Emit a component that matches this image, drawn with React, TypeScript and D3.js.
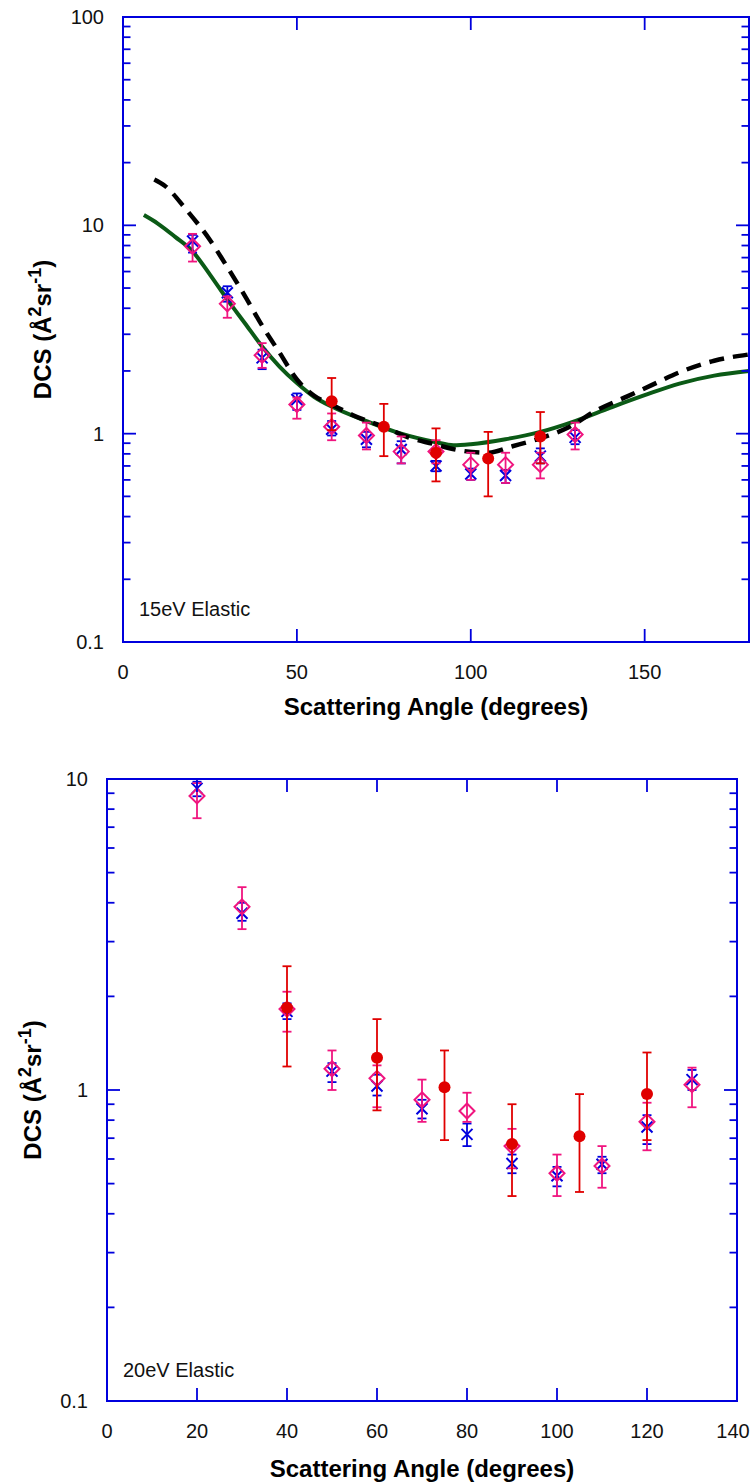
import React from 'react';
import * as d3 from 'd3';

// ---- 15 eV elastic ----
const angles15 = [20, 30, 40, 50, 60, 70, 80, 90, 100, 110, 120, 130];
const blue15 = [8.4, 4.75, 2.31, 1.46, 1.05, 0.94, 0.84, 0.7, 0.64, 0.63, 0.78, 0.96];
const blue15Lo = [7.4, 4.3, 2.04, 1.3, 0.98, 0.86, 0.72, 0.66, 0.6, 0.58, 0.72, 0.89];
const blue15Hi = [9.0, 5.1, 2.53, 1.56, 1.15, 1.02, 0.92, 0.74, 0.68, 0.67, 0.85, 1.04];
const mag15 = [7.93, 4.2, 2.38, 1.38, 1.08, 0.98, 0.82, 0.82, 0.71, 0.71, 0.71, 0.99];
const mag15Lo = [6.7, 3.6, 2.07, 1.18, 0.93, 0.84, 0.72, 0.72, 0.6, 0.58, 0.61, 0.84];
const mag15Hi = [9.1, 4.56, 2.72, 1.49, 1.25, 1.13, 0.97, 0.93, 0.81, 0.81, 0.81, 1.13];
const redAngles15 = [60, 75, 90, 105, 120];
const red15 = [1.43, 1.08, 0.81, 0.76, 0.97];
const red15Lo = [1.04, 0.78, 0.59, 0.5, 0.72];
const red15Hi = [1.85, 1.39, 1.06, 1.02, 1.27];

const greenAngles = [6, 10, 15, 20, 25, 30, 35, 40, 45, 50, 55, 60, 70, 80, 90, 95, 100, 110, 120, 130, 140, 150, 160, 170, 180];
const greenDcs = [11.2, 10.2, 8.8, 7.5, 5.8, 4.4, 3.4, 2.62, 2.1, 1.75, 1.5, 1.35, 1.15, 1.0, 0.91, 0.88, 0.89, 0.94, 1.02, 1.15, 1.33, 1.53, 1.74, 1.9, 2.0];
const dashAngles = [9, 12, 18, 25, 30, 35, 40, 45, 50, 55, 60, 66, 76, 82, 89, 97, 105, 112, 120, 128, 136, 145, 152, 160, 170, 180];
const dashDcs = [16.6, 15.5, 12.0, 8.5, 6.3, 4.6, 3.3, 2.45, 1.82, 1.52, 1.38, 1.23, 1.06, 0.96, 0.895, 0.83, 0.81, 0.87, 0.95, 1.07, 1.29, 1.51, 1.71, 1.97, 2.24, 2.4];

// ---- 20 eV elastic ----
const angles20 = [20, 30, 40, 50, 60, 70, 80, 90, 100, 110, 120, 130];
const blue20 = [9.33, 3.7, 1.79, 1.15, 1.03, 0.87, 0.72, 0.58, 0.53, 0.577, 0.76, 1.08];
const blue20Lo = [8.8, 3.5, 1.69, 1.06, 0.96, 0.81, 0.66, 0.54, 0.49, 0.54, 0.67, 1.0];
const blue20Hi = [9.8, 4.0, 1.9, 1.22, 1.12, 0.93, 0.78, 0.62, 0.566, 0.61, 0.83, 1.16];
const mag20 = [8.82, 3.88, 1.82, 1.17, 1.09, 0.93, 0.856, 0.66, 0.54, 0.57, 0.79, 1.04];
const mag20Lo = [7.48, 3.29, 1.54, 1.0, 0.88, 0.79, 0.79, 0.56, 0.456, 0.485, 0.64, 0.88];
const mag20Hi = [9.7, 4.49, 2.07, 1.34, 1.2, 1.08, 0.98, 0.75, 0.62, 0.66, 0.91, 1.18];
const redAngles20 = [40, 60, 75, 90, 105, 120];
const red20 = [1.84, 1.27, 1.02, 0.67, 0.71, 0.97];
const red20Lo = [1.19, 0.86, 0.69, 0.456, 0.47, 0.69];
const red20Hi = [2.5, 1.69, 1.34, 0.9, 0.97, 1.32];

const xTicks15 = [0, 50, 100, 150];
const xTicks20 = [0, 20, 40, 60, 80, 100, 120, 140];

const FONT = '"Liberation Sans", Arial, sans-serif';
const AXIS = '#0000dd';
const BLUE = '#0000dd';
const MAGENTA = '#f0157f';
const RED = '#e00000';
const GREEN = '#0b5a16';

const zip = (a, v, lo, hi) => a.map((x, i) => ({ a: x, v: v[i], lo: lo[i], hi: hi[i] }));

function ErrBar({ x, y, d, color }) {
  const y0 = y(d.lo), y1 = y(d.hi), cx = x(d.a);
  return (
    <g stroke={color} strokeWidth={1.8}>
      <line x1={cx} x2={cx} y1={y0} y2={y1} />
      <line x1={cx - 4.5} x2={cx + 4.5} y1={y0} y2={y0} />
      <line x1={cx - 4.5} x2={cx + 4.5} y1={y1} y2={y1} />
    </g>
  );
}

function Panel({ box, xMax, xTicks, yMin, yMax, blue, mag, red, lines, label, labelPos, yTitleX, xTitleY }) {
  const x = d3.scaleLinear().domain([0, xMax]).range([box.left, box.right]);
  const y = d3.scaleLog().domain([yMin, yMax]).range([box.bottom, box.top]);
  const line = d3.line().x(d => x(d[0])).y(d => y(d[1])).curve(d3.curveMonotoneX);

  const minor = [];
  const major = [];
  for (let dec = yMin; dec < yMax * 0.999; dec *= 10) {
    major.push(dec);
    for (let k = 2; k <= 9; k++) minor.push(dec * k);
  }
  major.push(yMax);
  const fmt = v => (v < 1 ? v.toFixed(1) : String(Math.round(v)));
  const cy = (box.top + box.bottom) / 2;

  return (
    <g fontFamily={FONT}>
      {lines.map((l, i) => (
        <path key={i} d={line(l.pts)} fill="none" stroke={l.color} strokeWidth={l.width}
          strokeDasharray={l.dash || null} />
      ))}
      {blue.map((d, i) => (
        <g key={'b' + i}>
          <ErrBar x={x} y={y} d={d} color={BLUE} />
          <path d={`M${x(d.a) - 5.5},${y(d.v) - 5.5}L${x(d.a) + 5.5},${y(d.v) + 5.5}M${x(d.a) - 5.5},${y(d.v) + 5.5}L${x(d.a) + 5.5},${y(d.v) - 5.5}`}
            stroke={BLUE} strokeWidth={2} />
        </g>
      ))}
      {mag.map((d, i) => (
        <g key={'m' + i}>
          <ErrBar x={x} y={y} d={d} color={MAGENTA} />
          <path d={`M${x(d.a)},${y(d.v) - 7.5}L${x(d.a) + 7.5},${y(d.v)}L${x(d.a)},${y(d.v) + 7.5}L${x(d.a) - 7.5},${y(d.v)}Z`}
            fill="none" stroke={MAGENTA} strokeWidth={2} />
        </g>
      ))}
      {red.map((d, i) => (
        <g key={'r' + i}>
          <ErrBar x={x} y={y} d={d} color={RED} />
          <circle cx={x(d.a)} cy={y(d.v)} r={6} fill={RED} />
        </g>
      ))}

      {/* frame */}
      <rect x={box.left} y={box.top} width={box.right - box.left} height={box.bottom - box.top}
        fill="none" stroke={AXIS} strokeWidth={2} />
      {minor.map(v => (
        <g key={'mn' + v} stroke={AXIS} strokeWidth={1.8}>
          <line x1={box.left} x2={box.left + 7.5} y1={y(v)} y2={y(v)} />
          <line x1={box.right} x2={box.right - 7.5} y1={y(v)} y2={y(v)} />
        </g>
      ))}
      {major.map(v => (
        <g key={'mj' + v}>
          <line x1={box.left} x2={box.left + 13} y1={y(v)} y2={y(v)} stroke={AXIS} strokeWidth={1.8} />
          <line x1={box.right} x2={box.right - 13} y1={y(v)} y2={y(v)} stroke={AXIS} strokeWidth={1.8} />
          <text x={box.left - 19} y={y(v)} dy="0.35em" textAnchor="end" fontSize={20} fill="#111">{fmt(v)}</text>
        </g>
      ))}
      {xTicks.map(t => (
        <g key={'x' + t}>
          {t > 0 && t < xMax && (
            <g stroke={AXIS} strokeWidth={1.8}>
              <line x1={x(t)} x2={x(t)} y1={box.bottom} y2={box.bottom - 13} />
              <line x1={x(t)} x2={x(t)} y1={box.top} y2={box.top + 13} />
            </g>
          )}
          <text x={Math.min(x(t), 750 - 17)} y={box.bottom + 37} textAnchor="middle" fontSize={20} fill="#111">{t}</text>
        </g>
      ))}
      <text x={labelPos[0]} y={labelPos[1]} fontSize={20} fill="#111">{label}</text>
      <text x={(box.left + box.right) / 2} y={xTitleY} textAnchor="middle" fontSize={24}
        fontWeight="bold" fill="#000">Scattering Angle (degrees)</text>
      <text transform={`translate(${yTitleX},${cy}) rotate(-90)`} textAnchor="middle" fontSize={24}
        fontWeight="bold" fill="#000">
        DCS (Å<tspan fontSize={18} dy={-10}>2</tspan><tspan dy={10}>sr</tspan>
        <tspan fontSize={18} dy={-10}>-1</tspan><tspan dy={10}>)</tspan>
      </text>
    </g>
  );
}

export default function App() {
  const lines15 = [
    { pts: greenAngles.map((a, i) => [a, greenDcs[i]]), color: GREEN, width: 4 },
    { pts: dashAngles.map((a, i) => [a, dashDcs[i]]), color: '#000', width: 4.5, dash: '15 9' },
  ];
  return (
    <svg width={751} height={1484} style={{ position: 'absolute', left: 0, top: 0, background: '#fff' }}>
      <Panel
        box={{ left: 123, right: 749, top: 17, bottom: 642 }}
        xMax={180} xTicks={xTicks15} yMin={0.1} yMax={100}
        blue={zip(angles15, blue15, blue15Lo, blue15Hi)}
        mag={zip(angles15, mag15, mag15Lo, mag15Hi)}
        red={zip(redAngles15, red15, red15Lo, red15Hi)}
        lines={lines15}
        label="15eV Elastic" labelPos={[139, 616]}
        yTitleX={51} xTitleY={715}
      />
      <Panel
        box={{ left: 107, right: 737, top: 779, bottom: 1401 }}
        xMax={140} xTicks={xTicks20} yMin={0.1} yMax={10}
        blue={zip(angles20, blue20, blue20Lo, blue20Hi)}
        mag={zip(angles20, mag20, mag20Lo, mag20Hi)}
        red={zip(redAngles20, red20, red20Lo, red20Hi)}
        lines={[]}
        label="20eV Elastic" labelPos={[123, 1377]}
        yTitleX={41} xTitleY={1477}
      />
    </svg>
  );
}
